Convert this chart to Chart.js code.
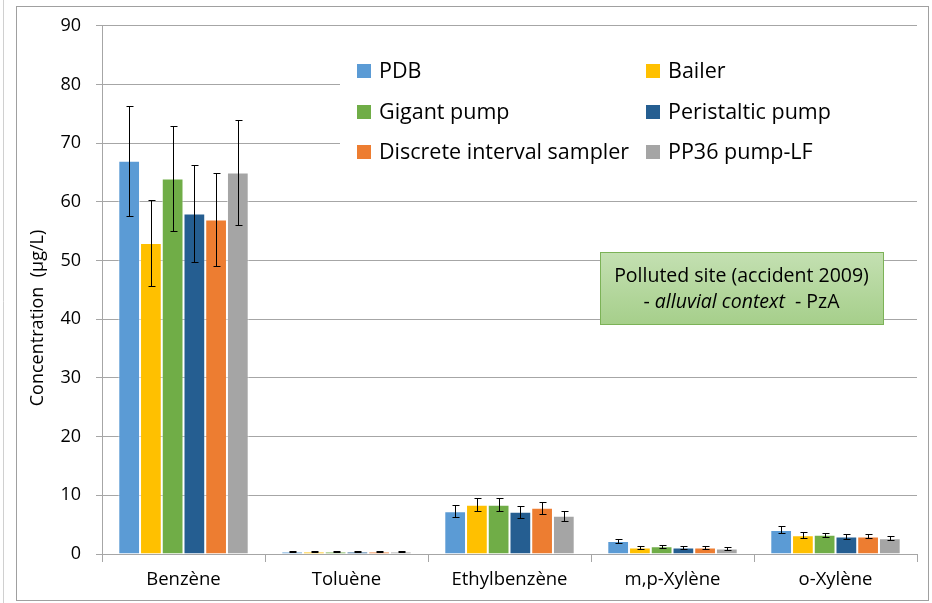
<!DOCTYPE html>
<html>
<head>
<meta charset="utf-8">
<script src="https://cdn.jsdelivr.net/npm/chart.js@4"></script>
<style>
  html, body { margin: 0; padding: 0; background: #fff; }
  #wrap { width: 932px; height: 603px; position: relative; }
</style>
</head>
<body>
<div id="wrap"><canvas id="chart" width="932" height="603"></canvas></div>
<script>
const categories = ['Benzène', 'Toluène', 'Ethylbenzène', 'm,p-Xylène', 'o-Xylène'];

const seriesNames = ['PDB', 'Bailer', 'Gigant pump', 'Peristaltic pump', 'Discrete interval sampler', 'PP36 pump-LF'];
const seriesColors = ['#5b9bd5', '#ffc000', '#70ad47', '#255e91', '#ed7d31', '#a5a5a5'];

const pdbValues = [67, 0.4, 7.3, 2.2, 4.1];
const bailerValues = [53, 0.4, 8.4, 1.1, 3.2];
const gigantValues = [64, 0.4, 8.4, 1.3, 3.3];
const peristalticValues = [58, 0.4, 7.2, 1.1, 3.0];
const discreteValues = [57, 0.4, 7.9, 1.1, 3.0];
const pp36Values = [65, 0.4, 6.5, 0.95, 2.7];

const pdbErrors = [9.4, 0.1, 1.0, 0.4, 0.6];
const bailerErrors = [7.4, 0.1, 1.1, 0.2, 0.5];
const gigantErrors = [9, 0.1, 1.1, 0.25, 0.35];
const peristalticErrors = [8.2, 0.1, 1.0, 0.25, 0.4];
const discreteErrors = [8, 0.1, 1.0, 0.2, 0.35];
const pp36Errors = [9, 0.1, 0.85, 0.2, 0.35];

const yTicks = [0, 10, 20, 30, 40, 50, 60, 70, 80, 90];
const yTitle = 'Concentration  (µg/L)';

const allValues = [pdbValues, bailerValues, gigantValues, peristalticValues, discreteValues, pp36Values];
const allErrors = [pdbErrors, bailerErrors, gigantErrors, peristalticErrors, discreteErrors, pp36Errors];

const FONT = "'Open Sans', sans-serif";
const GRID = '#a6a6a6';

// frame around the whole chart
const framePlugin = {
    id: 'frame',
    beforeDraw(chart) {
        const ctx = chart.ctx;
        ctx.save();
        ctx.fillStyle = '#fff';
        ctx.fillRect(0, 0, chart.width, chart.height);
        ctx.strokeStyle = '#d0d0d0';
        ctx.lineWidth = 1;
        ctx.beginPath();
        ctx.moveTo(3.5, 0);
        ctx.lineTo(3.5, chart.height);
        ctx.stroke();
        ctx.strokeStyle = '#a0a0a0';
        ctx.strokeRect(16.5, 6.5, 912, 594);
        ctx.restore();
    }
};

// vertical error bars from the error arrays
const errorBarPlugin = {
    id: 'errorBars',
    afterDatasetsDraw(chart) {
        const ctx = chart.ctx;
        const yScale = chart.scales.y;
        ctx.save();
        ctx.strokeStyle = '#000';
        ctx.lineWidth = 1;
        chart.data.datasets.forEach((ds, i) => {
            const meta = chart.getDatasetMeta(i);
            meta.data.forEach((bar, j) => {
                const v = ds.data[j];
                const e = allErrors[i][j];
                const x = Math.round(bar.x) + 0.5;
                const yTop = Math.round(yScale.getPixelForValue(v + e)) + 0.5;
                const yBot = Math.round(yScale.getPixelForValue(v - e)) + 0.5;
                ctx.beginPath();
                ctx.moveTo(x, yTop);
                ctx.lineTo(x, yBot);
                ctx.moveTo(x - 3, yTop);
                ctx.lineTo(x + 4, yTop);
                ctx.moveTo(x - 3, yBot);
                ctx.lineTo(x + 4, yBot);
                ctx.stroke();
            });
        });
        ctx.restore();
    }
};

// two column legend, axis title and the site note
const overlayPlugin = {
    id: 'overlay',
    afterDraw(chart) {
        const ctx = chart.ctx;
        ctx.save();
        ctx.fillStyle = '#fff';
        ctx.fillRect(340, 46, 580, 126);

        const colX = [357, 646];
        const rowY = [71, 112, 152];
        ctx.font = '21.5px ' + FONT;
        ctx.textBaseline = 'middle';
        ctx.textAlign = 'left';
        chart.data.datasets.forEach((ds, i) => {
            const x = colX[i % 2];
            const y = rowY[Math.floor(i / 2)];
            ctx.fillStyle = ds.backgroundColor;
            ctx.fillRect(x, y - 7, 14, 14);
            ctx.fillStyle = '#000';
            ctx.fillText(ds.label, x + 22, y + 1);
        });

        // y axis title
        ctx.save();
        ctx.translate(38, 318);
        ctx.rotate(-Math.PI / 2);
        ctx.textAlign = 'center';
        ctx.font = '18px ' + FONT;
        ctx.fillText(yTitle, 0, 0);
        ctx.restore();

        // note box
        const bx = 600, by = 252, bw = 283, bh = 72;
        const grad = ctx.createLinearGradient(0, by, 0, by + bh);
        grad.addColorStop(0, '#c4e0b2');
        grad.addColorStop(1, '#a6cf8b');
        ctx.fillStyle = grad;
        ctx.fillRect(bx, by, bw, bh);
        ctx.strokeStyle = '#7cb257';
        ctx.lineWidth = 1;
        ctx.strokeRect(bx + 0.5, by + 0.5, bw, bh);

        const fs = '19.5px ';
        ctx.fillStyle = '#000';
        ctx.textAlign = 'center';
        ctx.font = fs + FONT;
        ctx.fillText('Polluted site (accident 2009)', bx + bw / 2, 276);

        const p1 = '- ', p2 = 'alluvial context', p3 = '  - PzA';
        ctx.font = fs + FONT;
        const w1 = ctx.measureText(p1).width;
        const w3 = ctx.measureText(p3).width;
        ctx.font = 'italic ' + fs + FONT;
        const w2 = ctx.measureText(p2).width;
        let sx = bx + bw / 2 - (w1 + w2 + w3) / 2;
        ctx.textAlign = 'left';
        ctx.font = fs + FONT;
        ctx.fillText(p1, sx, 302);
        ctx.font = 'italic ' + fs + FONT;
        ctx.fillText(p2, sx + w1, 302);
        ctx.font = fs + FONT;
        ctx.fillText(p3, sx + w1 + w2, 302);
        ctx.restore();
    }
};

function buildDatasets() {
    return seriesNames.map((name, i) => ({
        label: name,
        data: allValues[i],
        backgroundColor: seriesColors[i],
        borderColor: 'rgba(255,255,255,0.55)',
        borderWidth: 1,
        categoryPercentage: 0.8,
        barPercentage: 1.0
    }));
}

new Chart(document.getElementById('chart'), {
    type: 'bar',
    data: {
        labels: categories,
        datasets: buildDatasets()
    },
    options: {
        responsive: false,
        animation: false,
        layout: {
            padding: { left: 16, right: 15, top: 20, bottom: 0 }
        },
        plugins: {
            legend: { display: false },
            tooltip: { enabled: false }
        },
        scales: {
            x: {
                afterFit(scale) { scale.height = 49; },
                grid: {
                    offset: true,
                    drawOnChartArea: false,
                    drawTicks: true,
                    tickLength: 8,
                    color: GRID
                },
                border: { color: GRID },
                ticks: {
                    color: '#000',
                    font: { family: FONT, size: 18.5 },
                    padding: 7
                }
            },
            y: {
                min: 0,
                max: 90,
                afterFit(scale) { scale.width = 86; },
                afterBuildTicks(scale) {
                    scale.ticks = yTicks.map(v => ({ value: v }));
                },
                grid: {
                    color: GRID,
                    tickLength: 6
                },
                border: { color: GRID },
                ticks: {
                    color: '#000',
                    font: { family: FONT, size: 18 },
                    padding: 15
                }
            }
        }
    },
    plugins: [framePlugin, errorBarPlugin, overlayPlugin]
});
</script>
</body>
</html>
